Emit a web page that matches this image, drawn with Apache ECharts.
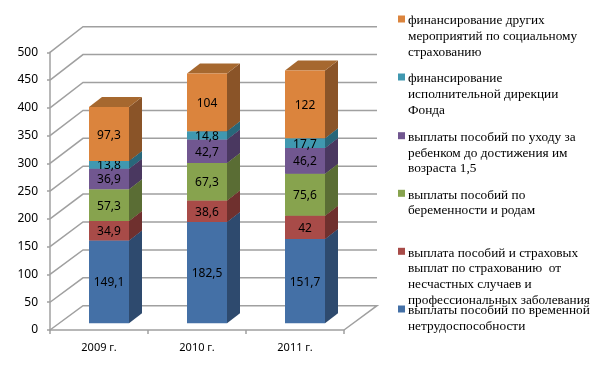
<!DOCTYPE html>
<html><head><meta charset="utf-8">
<style>html,body{margin:0;padding:0;background:#fff}#c{width:605px;height:366px}</style>
<script src="https://cdn.jsdelivr.net/npm/echarts@6/dist/echarts.min.js"></script>
</head><body><div id="c"></div>
<script>
const categories = ['2009 г.', '2010 г.', '2011 г.'];
const sick = [149.1, 182.5, 151.7];
const accident = [34.9, 38.6, 42];
const maternity = [57.3, 67.3, 75.6];
const childcare = [36.9, 42.7, 46.2];
const directorate = [13.8, 14.8, 17.7];
const other = [97.3, 104, 122];
const ticks = [0, 50, 100, 150, 200, 250, 300, 350, 400, 450, 500];

const names = [
  'выплаты пособий по временной\nнетрудоспособности',
  'выплата пособий и страховых\nвыплат по страхованию  от\nнесчастных случаев и\nпрофессиональных заболевания',
  'выплаты пособий по\nбеременности и родам',
  'выплаты пособий по уходу за\nребенком до достижения им\nвозраста 1,5',
  'финансирование\nисполнительной дирекции\nФонда',
  'финансирование других\nмероприятий по социальному\nстрахованию'
];
const values = [sick, accident, maternity, childcare, directorate, other];
const front = ['#4470a6', '#a84b48', '#87a34e', '#715790', '#4098b0', '#db843d'];
const side = ['#2e4a6e', '#6f302e', '#5a6d34', '#4a3860', '#28677a', '#8a5428'];
const topc = ['#37587f', '#84393a', '#6b813f', '#584370', '#307a90', '#a6682f'];
const legendTop = [310, 252.3, 194.3, 136.7, 78, 20];

const wallDX = 33, barDX = 13, barDY = -10, baseDX = 10, baseDY = -6.7, barW = 40;
const wallDY = v => -24.3 - v * 1.3 / 500;
const gridColor = '#a0a0a0';

function gridItem(params, api) {
  const v = api.value(0);
  const a = api.coord([0, v]);
  const band = api.size([1, 0])[0];
  const x0 = a[0] - band / 2, x1 = x0 + band * categories.length, y = a[1], dy = wallDY(v);
  const style = { stroke: gridColor, lineWidth: 1.5, fill: null };
  const pts = [[x0, y], [x0 + wallDX, y + dy], [x1 + wallDX, y + dy]];
  if (v === 0) pts.push([x1, y]);
  return { type: 'polyline', shape: { points: pts }, style, silent: true };
}

function barItem(s) {
  return function (params, api) {
    const i = api.value(0), from = api.value(1), to = api.value(2);
    const c0 = api.coord([i, from]), c1 = api.coord([i, to]);
    const l = c0[0] + baseDX - barW / 2, r = l + barW;
    const yb = c0[1] + baseDY, yt = c1[1] + baseDY;
    return { type: 'group', children: [
      { type: 'polygon', shape: { points: [[r, yb], [r + barDX, yb + barDY], [r + barDX, yt + barDY], [r, yt]] }, style: { fill: side[s] } },
      { type: 'polygon', shape: { points: [[l, yt], [l + barDX, yt + barDY], [r + barDX, yt + barDY], [r, yt]] }, style: { fill: topc[s] } },
      { type: 'rect', shape: { x: l, y: yt, width: barW, height: yb - yt }, style: { fill: front[s] } },
      { type: 'text', x: (l + r) / 2, y: (yb + yt) / 2 + 1, style: { text: String(values[s][i]).replace('.', ','), fill: '#000', font: '12px "Noto Sans"', align: 'center', verticalAlign: 'middle' } }
    ] };
  };
}

const series = [{ type: 'custom', name: 'grid', renderItem: gridItem, data: ticks.map(t => [t]), encode: { y: 0 }, silent: true, clip: false }];
const cum = categories.map(() => 0);
values.forEach((vals, s) => {
  const data = vals.map((v, i) => { const d = [i, cum[i], cum[i] + v]; cum[i] += v; return d; });
  series.push({ type: 'custom', name: names[s], renderItem: barItem(s), data, encode: { x: 0, y: [1, 2] }, clip: false, silent: true });
});

const graphic = [];
names.forEach((n, s) => {
  graphic.push({ type: 'rect', left: 398, top: legendTop[s] - 4.5, shape: { width: 7, height: 7 }, style: { fill: front[s] }, silent: true });
  graphic.push({ type: 'text', left: 408, top: legendTop[s] - 7, style: { text: n, fill: '#000', font: '13.3px "Liberation Serif"', lineHeight: 15.7 }, silent: true });
});

const chart = echarts.init(document.getElementById('c'), null, { renderer: 'canvas' });
chart.setOption({
  animation: false,
  backgroundColor: '#fff',
  grid: { left: 50, top: 52.3, right: 261, bottom: 36 },
  xAxis: { type: 'category', data: categories,
    axisLine: { lineStyle: { color: gridColor, width: 1.5 } },
    axisTick: { show: true, length: 4, lineStyle: { color: gridColor, width: 1.5 } },
    axisLabel: { color: '#000', fontFamily: 'Noto Sans', fontSize: 11, margin: 12 } },
  yAxis: { type: 'value', min: 0, max: 500, interval: 50, splitLine: { show: false },
    axisLine: { show: true, lineStyle: { color: gridColor, width: 1.5 } },
    axisTick: { show: true, length: 3, lineStyle: { color: gridColor, width: 1.5 } },
    axisLabel: { color: '#000', fontFamily: 'Noto Sans', fontSize: 12, margin: 12, padding: [4, 0, 0, 0] } },
  series,
  graphic
});
</script></body></html>
